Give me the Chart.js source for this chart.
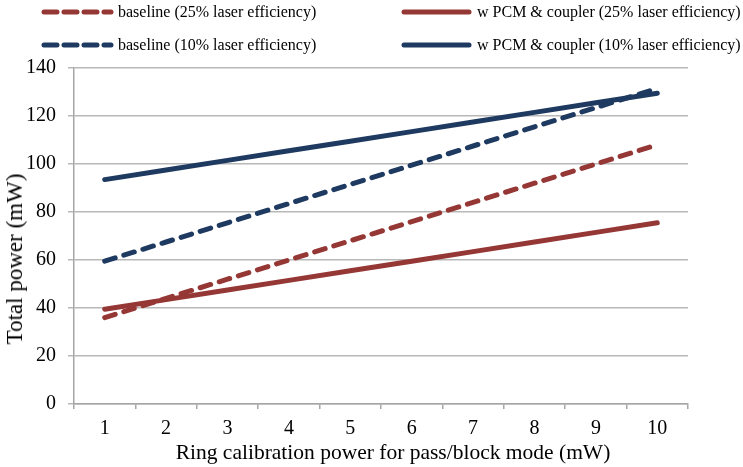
<!DOCTYPE html>
<html><head><meta charset="utf-8">
<script src="https://cdn.jsdelivr.net/npm/chart.js@4"></script>
<style>
html,body{margin:0;padding:0;background:#fff;}
#wrap{position:relative;width:743px;height:467px;overflow:hidden;}
canvas{position:absolute;left:0;top:0;}
.t{position:absolute;font-family:"Liberation Serif","Times New Roman",serif;color:#000;white-space:nowrap;}
.leg{font-size:16px;line-height:18px;}
.ytitle{font-size:23px;line-height:24px;transform:translate(-50%,-50%) rotate(-90deg);}
.xtitle{font-size:21.5px;line-height:24px;transform:translate(-50%,-50%);}
</style></head><body>
<div id="wrap"><canvas id="c" width="743" height="467"></canvas></div>
<script>
const categories = ["1","2","3","4","5","6","7","8","9","10"];
const seriesNames = ["baseline (25% laser efficiency)","w PCM & coupler (25% laser efficiency)","baseline (10% laser efficiency)","w PCM & coupler (10% laser efficiency)"];
const baseline25 = [36,44,52,60,68,76,84,92,100,108];
const pcm25 = [39.5,43.5,47.5,51.5,55.5,59.5,63.5,67.5,71.5,75.5];
const baseline10 = [59.5,67.5,75.5,83.5,91.5,99.5,107.5,115.5,123.5,131.5];
const pcm10 = [93.5,97.5,101.5,105.5,109.5,113.5,117.5,121.5,125.5,129.5];
const yTicks = [0,20,40,60,80,100,120,140];
const xTitle = "Ring calibration power for pass/block mode (mW)";
const yTitle = "Total power (mW)";

const RED = "#953735", BLUE = "#1F3A60";
const DASH = [11,9];
const styles = [
  {color:RED, dash:DASH},
  {color:RED, dash:[]},
  {color:BLUE, dash:DASH},
  {color:BLUE, dash:[]}
];
const values = [baseline25, pcm25, baseline10, pcm10];
const wrap = document.getElementById('wrap');

// HTML legend: [lineStart, lineEnd, textX, centerY]
const legPos = [[44,111,118,12],[404,469,477,12],[44,111,118,45],[404,469,477,45]];
seriesNames.forEach((n,i)=>{
  const [x1,x2,tx,cy] = legPos[i];
  const s = styles[i];
  const svg = document.createElementNS('http://www.w3.org/2000/svg','svg');
  svg.setAttribute('width',80); svg.setAttribute('height',12);
  svg.style.position='absolute'; svg.style.left=(x1-4)+'px'; svg.style.top=(cy-6)+'px';
  const ln = document.createElementNS('http://www.w3.org/2000/svg','line');
  ln.setAttribute('x1',4); ln.setAttribute('y1',6); ln.setAttribute('x2',x2-x1+4); ln.setAttribute('y2',6);
  ln.setAttribute('stroke',s.color); ln.setAttribute('stroke-width',5); ln.setAttribute('stroke-linecap','round');
  if (s.dash.length) ln.setAttribute('stroke-dasharray','13,7');
  svg.appendChild(ln); wrap.appendChild(svg);
  const d = document.createElement('div');
  d.className='t leg'; d.textContent=n;
  d.style.left=tx+'px'; d.style.top=(cy-9)+'px';
  wrap.appendChild(d);
});
const yt = document.createElement('div'); yt.className='t ytitle'; yt.textContent=yTitle;
yt.style.left='15px'; yt.style.top='259px'; wrap.appendChild(yt);
const xt = document.createElement('div'); xt.className='t xtitle'; xt.textContent=xTitle;
xt.style.left='393px'; xt.style.top='452px'; wrap.appendChild(xt);

const FONT = "'Liberation Serif','Times New Roman',serif";
new Chart(document.getElementById('c'), {
  type:'line',
  data:{
    labels:categories,
    datasets: values.map((v,i)=>({
      label:seriesNames[i], data:v,
      borderColor:styles[i].color, backgroundColor:styles[i].color,
      borderWidth:5, borderDash:styles[i].dash, borderCapStyle:'round',
      pointRadius:0, tension:0, fill:false
    }))
  },
  options:{
    responsive:false, animation:false,
    layout:{padding:{top:68,right:55,left:0,bottom:0}},
    plugins:{legend:{display:false},tooltip:{enabled:false}},
    scales:{
      x:{
        type:'category', offset:true,
        afterFit:(ax)=>{ax.height = 63;},
        grid:{offset:true, drawOnChartArea:false, drawTicks:true, tickLength:5, color:'#a6a6a6', lineWidth:1.5},
        border:{color:'#a6a6a6', width:1.5},
        ticks:{font:{family:FONT,size:20}, color:'#000', padding:8, maxRotation:0}
      },
      y:{
        min:0, max:140,
        afterFit:(ax)=>{ax.width = 74;},
        afterBuildTicks:(ax)=>{ax.ticks = yTicks.map(v=>({value:v}));},
        grid:{color:'#b8b8b8', lineWidth:1.5, tickLength:6},
        border:{color:'#a6a6a6', width:1.5},
        ticks:{font:{family:FONT,size:20}, color:'#000', padding:12}
      }
    }
  }
});
</script>
</body></html>
